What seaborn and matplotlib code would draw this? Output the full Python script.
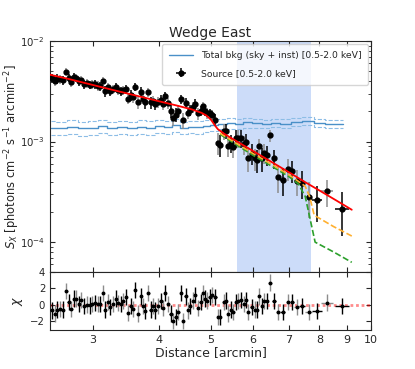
import numpy as np
import pandas as pd
import seaborn as sns
import matplotlib
matplotlib.use('Agg')
import matplotlib.pyplot as plt
from matplotlib.ticker import FixedLocator, NullLocator, FixedFormatter

# Source profile (radius in arcmin, S_X in 1e-3 photons cm^-2 s^-1 arcmin^-2)
r = [2.51, 2.54, 2.57, 2.60, 2.63, 2.67, 2.70, 2.73, 2.76, 2.79, 2.82, 2.85, 2.89, 2.92, 2.96, 2.99,
     3.02, 3.06, 3.09, 3.13, 3.16, 3.20, 3.23, 3.27, 3.31, 3.34, 3.38, 3.42, 3.46, 3.49, 3.53, 3.57,
     3.60, 3.65, 3.69, 3.73, 3.76, 3.81, 3.85, 3.89, 3.93, 3.98, 4.02, 4.06, 4.10, 4.15,
     4.20, 4.24, 4.29, 4.34, 4.39, 4.43, 4.48, 4.53, 4.57, 4.63, 4.67, 4.73, 4.78, 4.83, 4.87, 4.92,
     4.97, 5.02, 5.09, 5.15, 5.20, 5.28, 5.33, 5.39, 5.45, 5.51, 5.57, 5.63, 5.69, 5.76, 5.82, 5.88,
     5.97, 6.04, 6.10, 6.16, 6.24, 6.30, 6.37, 6.46, 6.56, 6.68, 6.82, 6.98, 7.10, 7.25, 7.42, 7.63,
     7.91, 8.27, 8.82]
sx = [4.28, 4.03, 4.20, 4.18, 4.08, 4.97, 4.32, 3.92, 4.38, 4.31, 3.99, 4.13, 3.75, 3.78, 3.67, 3.70,
      3.70, 3.60, 3.55, 3.98, 3.18, 3.47, 3.21, 3.30, 3.47, 3.24, 3.15, 3.22, 3.33, 2.67, 2.89, 2.75,
      3.50, 2.46, 3.12, 2.68, 2.46, 3.12, 2.45, 2.55, 2.35, 2.47, 2.62, 2.34, 2.84, 2.42,
      2.02, 1.72, 1.85, 2.00, 2.64, 1.63, 2.44, 1.94, 2.06, 2.20, 2.37, 1.91, 2.03, 2.25, 2.03, 1.91,
      1.91, 1.85, 1.65, 0.97, 0.93, 1.26, 1.27, 0.91, 0.97, 0.88, 1.09, 1.08, 1.08, 0.94, 1.00, 0.69,
      0.76, 0.68, 0.66, 0.91, 0.68, 0.77, 0.74, 1.15, 0.68, 0.445, 0.416, 0.539, 0.514, 0.407, 0.39, 0.283,
      0.26, 0.32, 0.215]
sx_err = [0.46, 0.45, 0.45, 0.44, 0.43, 0.43, 0.42, 0.41, 0.41, 0.40, 0.40, 0.39, 0.38, 0.38, 0.37, 0.37,
          0.40, 0.39, 0.39, 0.38, 0.38, 0.37, 0.37, 0.36, 0.35, 0.35, 0.34, 0.34, 0.33, 0.33, 0.33, 0.32,
          0.35, 0.34, 0.33, 0.33, 0.33, 0.32, 0.32, 0.31, 0.31, 0.30, 0.30, 0.30, 0.29, 0.29,
          0.31, 0.30, 0.30, 0.29, 0.29, 0.29, 0.28, 0.28, 0.27, 0.27, 0.27, 0.26, 0.25, 0.25, 0.24, 0.23,
          0.22, 0.21, 0.22, 0.24, 0.23, 0.22, 0.21, 0.20, 0.20, 0.19, 0.22, 0.22, 0.21, 0.20, 0.20, 0.19,
          0.18, 0.17, 0.17, 0.16, 0.18, 0.17, 0.17, 0.16, 0.15, 0.14, 0.13, 0.13, 0.13, 0.12, 0.12, 0.11,
          0.10, 0.097, 0.10]
chi = [-0.7, -1.1, -0.6, -0.5, -0.6, 1.7, 0.3, -0.5, 0.75, 0.75, 0.1, 0.6, -0.2, 0.0, -0.1, 0.1,
       0.2, 0.1, 0.1, 1.4, -0.6, 0.3, -0.3, 0.1, 0.75, 0.2, 0.1, 0.45, 0.9, -1.0, -0.2, -0.5,
       1.8, -1.1, 1.0, -0.2, -0.8, 1.4, -0.6, -0.2, -0.7, -0.2, 0.45, -0.4, 1.4, 0.1,
       -1.1, -2.0, -1.5, -0.9, 1.4, -2.0, 1.0, -0.7, -0.2, 0.5, 1.2, -0.4, 0.3, 1.4, 0.75, 0.5,
       0.9, 1.2, 0.9, -1.5, -1.5, 0.3, 0.5, -1.1, -0.6, -0.9, 0.3, 0.45, 0.6, 0.1, 0.6, -0.9,
       -0.3, -0.6, -0.6, 1.0, -0.2, 0.45, 0.45, 2.7, 0.45, -0.9, -0.9, 0.3, 0.3, -0.3, -0.2, -0.9,
       -0.8, 0.25, -0.2]

# Best-fit model and alternative components
mod_r = [2.49, 2.7, 3.0, 3.3, 3.6, 4.0, 4.3, 4.6, 4.8, 4.9, 5.0, 5.1, 5.15, 5.3, 5.6, 6.0, 6.5,
         7.0, 7.5, 8.0, 8.6, 9.2]
mod_sx = [4.62, 4.19, 3.65, 3.22, 2.88, 2.51, 2.29, 2.09, 1.93, 1.82, 1.65, 1.42, 1.33, 1.19, 1.00,
          0.805, 0.627, 0.497, 0.398, 0.326, 0.260, 0.210]
orange_r = [5.2, 5.6, 6.0, 6.5, 7.0, 7.52, 7.67, 7.82, 8.5, 9.2]
orange_sx = [1.21, 0.95, 0.76, 0.595, 0.47, 0.36, 0.28, 0.185, 0.143, 0.115]
green_r = [5.2, 5.6, 6.0, 6.5, 7.0, 7.3, 7.52, 7.85, 8.5, 9.2]
green_sx = [1.18, 0.92, 0.73, 0.57, 0.45, 0.38, 0.285, 0.100, 0.080, 0.063]

# Total background (sky + instrumental) with its bounds
bkg_r = [2.50, 2.62, 2.75, 2.88, 3.00, 3.12, 3.25, 3.40, 3.55, 3.70, 3.85, 4.00, 4.15, 4.30, 4.45,
         4.60, 4.75, 4.90, 5.05, 5.25, 5.45, 5.65, 5.85, 6.10, 6.35, 6.60, 6.90, 7.25, 7.60, 8.00,
         8.40, 8.85]
bkg = [1.38, 1.36, 1.40, 1.35, 1.38, 1.42, 1.37, 1.40, 1.36, 1.41, 1.38, 1.43, 1.39, 1.45, 1.38,
       1.41, 1.40, 1.44, 1.47, 1.50, 1.52, 1.49, 1.55, 1.52, 1.50, 1.54, 1.51, 1.57, 1.60, 1.53,
       1.50, 1.50]
bkg_hi = [1.60, 1.57, 1.62, 1.56, 1.59, 1.64, 1.58, 1.61, 1.57, 1.62, 1.59, 1.64, 1.60, 1.66, 1.58,
          1.61, 1.60, 1.63, 1.66, 1.68, 1.70, 1.66, 1.72, 1.68, 1.65, 1.69, 1.66, 1.72, 1.74, 1.67,
          1.63, 1.63]
bkg_lo = [1.17, 1.15, 1.19, 1.14, 1.17, 1.21, 1.16, 1.19, 1.15, 1.20, 1.17, 1.22, 1.18, 1.24, 1.18,
          1.21, 1.20, 1.24, 1.28, 1.32, 1.34, 1.32, 1.38, 1.36, 1.35, 1.39, 1.36, 1.42, 1.46, 1.39,
          1.37, 1.37]

span_lo, span_hi = 5.6, 7.72

df = pd.DataFrame({'r': r, 'sx': np.array(sx) * 1e-3, 'err': np.array(sx_err) * 1e-3, 'chi': chi})
df['xerr'] = np.gradient(df['r']) / 2
df_bkg = pd.DataFrame({'r': bkg_r, 'bkg': np.array(bkg) * 1e-3,
                       'hi': np.array(bkg_hi) * 1e-3, 'lo': np.array(bkg_lo) * 1e-3})

sns.set_style('ticks', {'xtick.direction': 'in', 'ytick.direction': 'in'})
plt.rcParams['font.family'] = ['DejaVu Sans']
plt.rcParams['xtick.top'] = True
plt.rcParams['ytick.right'] = True
plt.rcParams['xtick.labelsize'] = 8
plt.rcParams['ytick.labelsize'] = 7.3

fig = plt.figure(figsize=(4.15, 3.69), dpi=100)
ax = fig.add_axes([0.1205, 0.2629, 0.7735, 0.6260])
axr = fig.add_axes([0.1205, 0.1057, 0.7735, 0.1572], sharex=ax)

ax.axvspan(span_lo, span_hi, color='cornflowerblue', alpha=0.33, lw=0, zorder=0)

# background
sns.lineplot(data=df_bkg, x='r', y='bkg', ax=ax, color='#4a90c8', lw=1.0,
             drawstyle='steps-mid', label='Total bkg (sky + inst) [0.5-2.0 keV]')
sns.lineplot(data=df_bkg, x='r', y='hi', ax=ax, color='#8dbde6', lw=0.8, ls='--', drawstyle='steps-mid')
sns.lineplot(data=df_bkg, x='r', y='lo', ax=ax, color='#8dbde6', lw=0.8, ls='--', drawstyle='steps-mid')

# source, alternating error colours
even, odd = df.iloc[::2], df.iloc[1::2]
src = ax.errorbar(even['r'], even['sx'], yerr=even['err'], xerr=even['xerr'], fmt='o', ms=3.5,
                  color='black', ecolor='black', elinewidth=1.1, capsize=0, zorder=4,
                  label='Source [0.5-2.0 keV]')
ax.errorbar(odd['r'], odd['sx'], yerr=odd['err'], xerr=odd['xerr'], fmt='o', ms=3.5,
            color='black', ecolor='0.55', elinewidth=1.1, capsize=0, zorder=4)

# models
sns.lineplot(x=np.array(green_r), y=np.array(green_sx) * 1e-3, ax=ax, color='#2ca02c', lw=1.2,
             ls='--', zorder=5)
sns.lineplot(x=np.array(orange_r), y=np.array(orange_sx) * 1e-3, ax=ax, color='#ffb030', lw=1.2,
             ls='--', zorder=6)
sns.lineplot(x=np.array(mod_r), y=np.array(mod_sx) * 1e-3, ax=ax, color='red', lw=1.3, zorder=7)

ax.set_xscale('log')
ax.set_yscale('log')
ax.set_xlim(2.49, 10)
ax.set_ylim(5.05e-5, 1e-2)
ax.set_title('Wedge East', fontsize=10, pad=3)
ax.set_xlabel('')
ax.set_ylabel(r'$S_X$ [photons cm$^{-2}$ s$^{-1}$ arcmin$^{-2}$]', fontsize=8.3)
ax.yaxis.set_label_coords(-0.088, 0.5)
ax.tick_params(labelbottom=False)
handles, labels = ax.get_legend_handles_labels()
ax.legend([handles[labels.index('Total bkg (sky + inst) [0.5-2.0 keV]')], src],
          ['Total bkg (sky + inst) [0.5-2.0 keV]', 'Source [0.5-2.0 keV]'],
          loc='upper right', fontsize=6.7, frameon=True, fancybox=True,
          borderaxespad=0.3, borderpad=0.75, handlelength=2.6, labelspacing=1.0)

# residuals
axr.axhline(0, color='red', ls=(0, (1, 1)), lw=2, alpha=0.45, zorder=1)
axr.errorbar(even['r'], even['chi'], yerr=1, xerr=even['xerr'], fmt='o', ms=1.8, color='black',
             ecolor='black', elinewidth=1.0, capsize=0, zorder=3)
axr.errorbar(odd['r'], odd['chi'], yerr=1, xerr=odd['xerr'], fmt='o', ms=1.8, color='black',
             ecolor='0.55', elinewidth=1.0, capsize=0, zorder=3)
axr.set_ylim(-3.1, 4)
axr.set_yticks([-2, 0, 2, 4])
axr.set_ylabel(r'$\chi$', fontsize=9)
axr.set_xlabel('Distance [arcmin]', fontsize=9, labelpad=1)

ticks = [3, 4, 5, 6, 7, 8, 9, 10]
for a in (ax, axr):
    a.xaxis.set_major_locator(FixedLocator(ticks))
    a.xaxis.set_minor_locator(NullLocator())
axr.xaxis.set_major_formatter(FixedFormatter([str(t) for t in ticks]))
axr.set_xlim(2.49, 10)

fig.savefig('out.png', dpi=100)
